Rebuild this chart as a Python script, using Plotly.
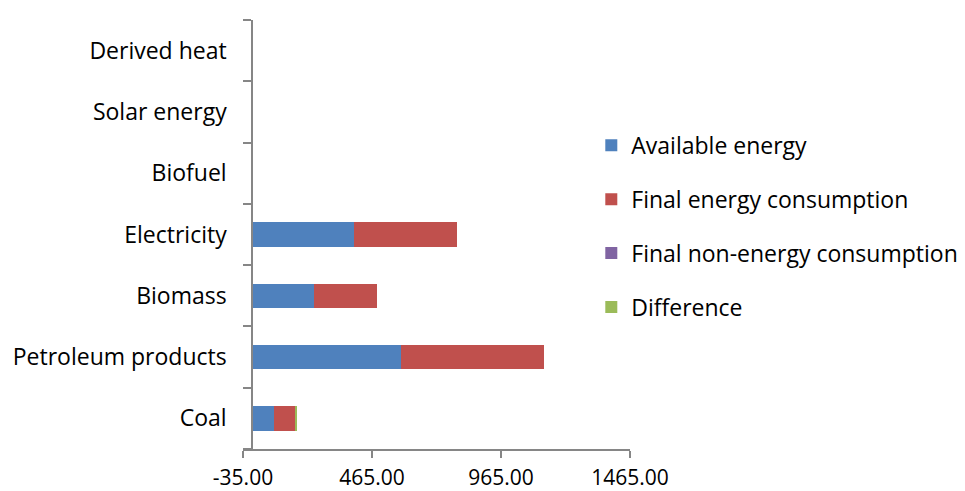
import plotly.graph_objects as go

# Energy balance by product (ktoe)
categories = ["Coal", "Petroleum products", "Biomass", "Electricity",
              "Biofuel", "Solar energy", "Derived heat"]
available_energy = [84, 576, 240, 397, 0, 0, 0.6]
final_energy = [86, 557, 243, 397, 0, 0, 0.6]
final_non_energy = [0, 0, 0, 0, 0, 0, 0]
difference = [3, 0, 0, 0, 0, 0, 0]

x_min, x_max = -35, 1465
x_ticks = [-35, 465, 965, 1465]
x_tick_labels = [f"{v:.2f}" for v in x_ticks]

series = [
    ("Available energy", available_energy, "#4F81BD"),
    ("Final energy consumption", final_energy, "#C0504D"),
    ("Final non-energy consumption", final_non_energy, "#8064A2"),
    ("Difference", difference, "#9BBB59"),
]

fig = go.Figure()
for name, vals, color in series:
    fig.add_trace(go.Bar(
        y=categories, x=vals, name=name, orientation="h",
        marker=dict(color=color, line=dict(width=0)),
        legendgroup=name,
    ))

font_family = "Open Sans, sans-serif"
axis_grey = "#868686"

fig.update_layout(
    barmode="stack",
    bargap=0.6,
    width=965, height=491,
    margin=dict(l=243, r=335, t=20, b=42, autoexpand=False),
    plot_bgcolor="white", paper_bgcolor="white",
    font=dict(family=font_family, size=23, color="black"),
    xaxis=dict(
        range=[x_min, x_max], tickvals=x_ticks, ticktext=x_tick_labels,
        showgrid=False, zeroline=False, automargin=False,
        showline=True, linecolor=axis_grey, linewidth=1.5,
        ticks="outside", ticklen=7, tickcolor=axis_grey, tickwidth=1.5,
        ticklabelstandoff=2,
        tickfont=dict(size=21),
    ),
    yaxis=dict(
        type="category", categoryorder="array", categoryarray=categories,
        range=[-0.5, len(categories) - 0.5],
        anchor="free", position=(0 - x_min) / (x_max - x_min),
        showgrid=False, zeroline=False, automargin=False,
        showline=True, linecolor=axis_grey, linewidth=1.5,
        ticks="outside", tickson="boundaries", ticklen=8,
        tickcolor=axis_grey, tickwidth=1.5,
        ticklabelstandoff=20,
        tickfont=dict(size=23),
    ),
    legend=dict(
        x=0.9, y=0.519, xanchor="left", yanchor="middle",
        traceorder="grouped", tracegroupgap=21,
        font=dict(size=23),
        bgcolor="rgba(0,0,0,0)",
    ),
)

fig.write_html("out.html")
